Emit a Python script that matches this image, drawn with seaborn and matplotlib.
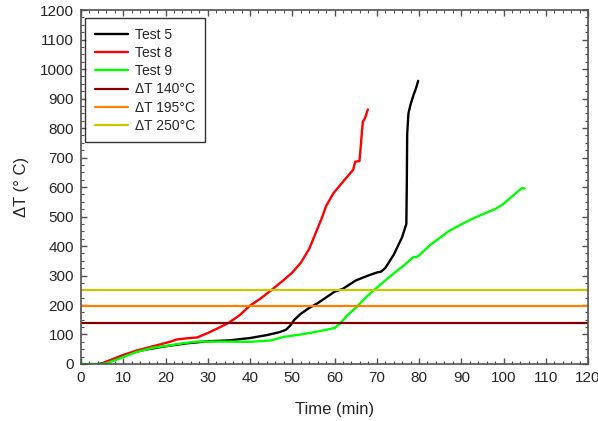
import numpy as np
import pandas as pd
import matplotlib
matplotlib.use("Agg")
import matplotlib.pyplot as plt
import seaborn as sns
from matplotlib.ticker import MultipleLocator

# Test 5 (black)
t5_time = [4, 5, 7, 10, 13, 15, 20, 25, 30, 35, 40, 44, 47, 48.5, 49.5, 50.5, 52, 54, 56, 60, 62, 65, 68,
           70, 71, 72, 74, 76, 77, 77.1, 77.2, 77.5, 78, 78.7, 79.3, 79.8]
t5_dt = [0, 2, 12, 30, 42, 48, 60, 70, 77, 80, 88, 98, 108, 116, 130, 150, 170, 190, 206, 245, 255, 283, 300,
         310, 313, 325, 370, 430, 475, 600, 780, 850, 880, 912, 935, 960]

# Test 8 (red)
t8_time = [5, 6, 10, 13, 17, 21, 22.6, 25, 27.5, 30, 32.5, 35, 37.5, 40, 42.5, 45, 48, 50, 52, 54,
           56, 57, 58, 59.7, 62, 64.4, 64.9, 65.9, 66.2, 66.5, 66.7, 67.2, 67.9]
t8_dt = [0, 8, 30, 45, 60, 75, 83, 87, 90, 105, 122, 140, 165, 198, 222, 250, 285, 310, 343, 390,
         460, 495, 535, 578, 618, 658, 686, 688, 737, 790, 821, 833, 863]

# Test 9 (green)
t9_time = [0, 5, 6, 9, 13, 17, 21, 24, 27.5, 33, 40, 45, 48, 52, 56, 60, 61.5, 63, 65.3, 67, 69.2,
           71.5, 74, 76.5, 78.7, 79.3, 80, 82.6, 84.2, 87, 90.5, 93, 96, 98.4, 100, 101.5, 103, 104.3, 105]
t9_dt = [0, 0, 2, 18, 40, 55, 63, 70, 76, 76, 75, 80, 92, 100, 110, 122, 140, 165, 194, 220, 249,
         277, 307, 335, 363, 362, 368, 403, 420, 450, 477, 495, 513, 528, 543, 562, 580, 596, 595]

tests = ["Test 5", "Test 8", "Test 9"]
test_colors = ["#000000", "#FF0000", "#00FF00"]
thresholds = [140, 195, 250]
threshold_labels = ["\u0394T 140\u00b0C", "\u0394T 195\u00b0C", "\u0394T 250\u00b0C"]
threshold_colors = ["#800000", "#FF8000", "#C8C800"]

sns.set_style("ticks")
plt.rcParams["font.family"] = ["Liberation Sans", "DejaVu Sans"]

fig = plt.figure(figsize=(5.98, 4.21), dpi=100)
ax = fig.add_axes([0.1355, 0.1354, 0.8478, 0.8408])

series = [(t5_time, t5_dt), (t8_time, t8_dt), (t9_time, t9_dt)]
for name, color, (tx, ty) in zip(tests, test_colors, series):
    df = pd.DataFrame({"time": tx, "dt": ty})
    sns.lineplot(data=df, x="time", y="dt", ax=ax, color=color, lw=1.7,
                 estimator=None, sort=False, label=name)

for val, lab, col in zip(thresholds, threshold_labels, threshold_colors):
    ax.axhline(val, color=col, lw=1.6, label=lab)

ax.set_xlim(0, 120)
ax.set_ylim(0, 1200)
ax.xaxis.set_major_locator(MultipleLocator(10))
ax.xaxis.set_minor_locator(MultipleLocator(2))
ax.yaxis.set_major_locator(MultipleLocator(100))
ax.yaxis.set_minor_locator(MultipleLocator(25))
ax.tick_params(which="both", direction="in", top=True, right=True, color="#505050", labelsize=11)
ax.tick_params(which="major", length=4, width=1, pad=5)
ax.tick_params(which="minor", length=2.5, width=0.8)
for sp in ax.spines.values():
    sp.set_color("#505050")
    sp.set_linewidth(1.2)

ax.set_xlabel("Time (min)", fontsize=12, labelpad=12)
ax.set_ylabel("\u0394T (\u00b0 C)", fontsize=12, labelpad=8)

leg = ax.legend(loc="upper left", fontsize=10, frameon=True, fancybox=False,
                edgecolor="black", handlelength=2.4, handletextpad=0.5, borderpad=0.7,
                labelspacing=0.3, borderaxespad=0, bbox_to_anchor=(0.008, 0.977))
leg.get_frame().set_linewidth(1.0)

fig.savefig("out.png", dpi=100)
